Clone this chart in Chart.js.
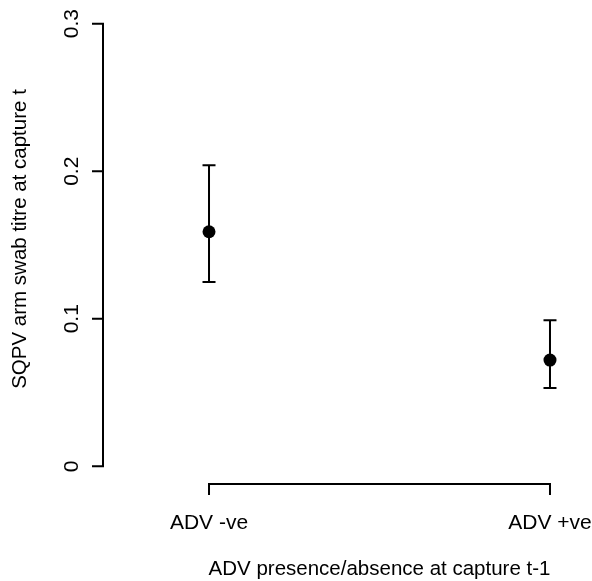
<!DOCTYPE html>
<html>
<head>
<meta charset="utf-8">
<script src="https://cdn.jsdelivr.net/npm/chart.js@4"></script>
<style>
  body { margin: 0; background: #fff; }
  #wrap { width: 592px; height: 581px; }
</style>
</head>
<body>
<div id="wrap"><canvas id="chart" width="592" height="581"></canvas></div>
<script>
'use strict';

// values
const categories = ['ADV -ve', 'ADV +ve'];
const means = [0.159, 0.072];
const upper = [0.204, 0.099];
const lower = [0.125, 0.053];
const yTicks = [0, 0.1, 0.2, 0.3];

const xTitle = 'ADV presence/absence at capture t-1';
const yTitle = 'SQPV arm swab titre at capture t';

const FONT = '21px "Liberation Sans", Arial, sans-serif';
const TITLE_FONT = '20.5px "Liberation Sans", Arial, sans-serif';

const points = categories.map((c, i) => ({ x: i + 1, y: means[i] }));

// R style axes, error bars and labels
const rAxes = {
    id: 'rAxes',
    beforeDatasetsDraw(chart) {
        const { ctx, chartArea } = chart;
        const xs = chart.scales.x;
        const ys = chart.scales.y;
        ctx.save();
        ctx.strokeStyle = '#000';
        ctx.fillStyle = '#000';
        ctx.lineWidth = 2;
        ctx.lineCap = 'butt';

        // error bars
        categories.forEach((c, i) => {
            const px = xs.getPixelForValue(i + 1);
            const top = ys.getPixelForValue(upper[i]);
            const bot = ys.getPixelForValue(lower[i]);
            ctx.beginPath();
            ctx.moveTo(px, top);
            ctx.lineTo(px, bot);
            ctx.moveTo(px - 6.5, top);
            ctx.lineTo(px + 6.5, top);
            ctx.moveTo(px - 6.5, bot);
            ctx.lineTo(px + 6.5, bot);
            ctx.stroke();
        });

        // y axis
        const left = chartArea.left;
        ctx.beginPath();
        ctx.moveTo(left, ys.getPixelForValue(yTicks[0]) + 1);
        ctx.lineTo(left, ys.getPixelForValue(yTicks[yTicks.length - 1]) - 1);
        yTicks.forEach(t => {
            const py = ys.getPixelForValue(t);
            ctx.moveTo(left - 11, py);
            ctx.lineTo(left, py);
        });
        ctx.stroke();

        ctx.font = FONT;
        ctx.textAlign = 'center';
        ctx.textBaseline = 'alphabetic';
        yTicks.forEach(t => {
            const py = ys.getPixelForValue(t);
            ctx.save();
            ctx.translate(78, py);
            ctx.rotate(-Math.PI / 2);
            ctx.fillText(String(t), 0, 0);
            ctx.restore();
        });

        // x axis
        const bottom = chartArea.bottom;
        ctx.beginPath();
        ctx.moveTo(xs.getPixelForValue(1) - 1, bottom);
        ctx.lineTo(xs.getPixelForValue(categories.length) + 1, bottom);
        categories.forEach((c, i) => {
            const px = xs.getPixelForValue(i + 1);
            ctx.moveTo(px, bottom);
            ctx.lineTo(px, bottom + 11);
        });
        ctx.stroke();

        categories.forEach((c, i) => {
            ctx.fillText(c, xs.getPixelForValue(i + 1), 529);
        });

        // axis titles
        ctx.font = TITLE_FONT;
        ctx.fillText(xTitle, xs.getPixelForValue(1.5), 575);
        ctx.save();
        ctx.translate(26, (chartArea.top + chartArea.bottom) / 2 - 6);
        ctx.rotate(-Math.PI / 2);
        ctx.fillText(yTitle, 0, 0);
        ctx.restore();

        ctx.restore();
    }
};

const ctx = document.getElementById('chart').getContext('2d');
const myChart = new Chart(ctx, {
    type: 'scatter',
    data: {
        datasets: [
            {
                label: 'mean',
                data: points,
                backgroundColor: '#000',
                borderColor: '#000',
                borderWidth: 0,
                pointRadius: 6.5,
                pointHoverRadius: 6.5
            }
        ]
    },
    options: {
        responsive: false,
        animation: false,
        devicePixelRatio: 1,
        layout: {
            autoPadding: false,
            padding: { left: 103, top: 6, right: 0, bottom: 97 }
        },
        plugins: {
            legend: { display: false },
            tooltip: { enabled: false }
        },
        scales: {
            x: {
                type: 'linear',
                display: false,
                min: 0.6891,
                max: 2.1232
            },
            y: {
                type: 'linear',
                display: false,
                min: -0.012,
                max: 0.312
            }
        }
    },
    plugins: [rAxes]
});
</script>
</body>
</html>
